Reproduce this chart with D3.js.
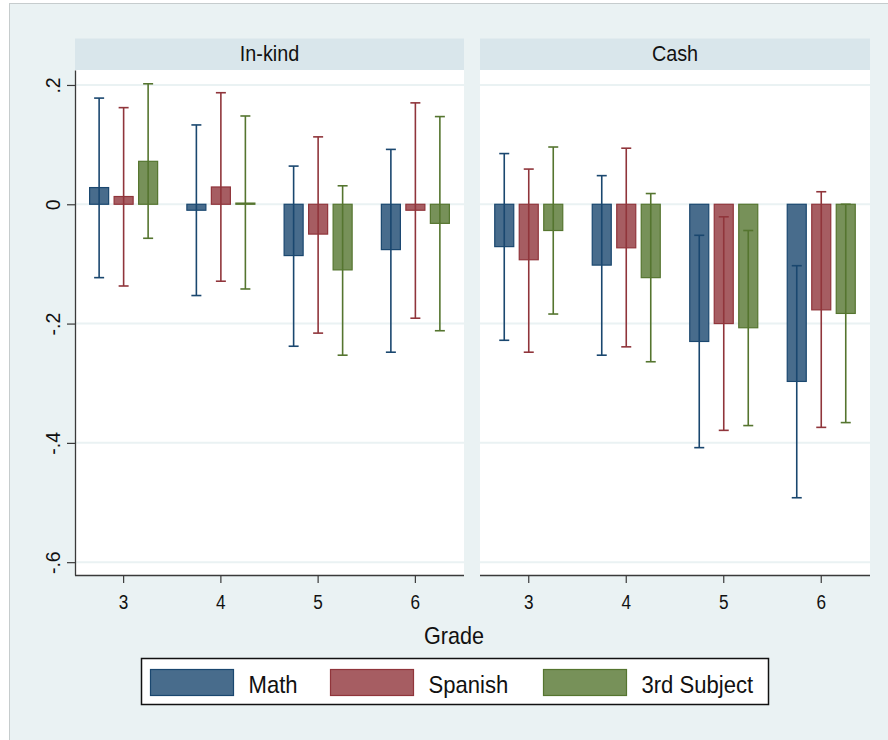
<!DOCTYPE html>
<html>
<head>
<meta charset="utf-8">
<script src="https://cdn.jsdelivr.net/npm/d3@7"></script>
<style>
  html, body { margin: 0; padding: 0; background: #ffffff; }
  svg { display: block; font-family: "Liberation Sans", Arial, sans-serif; }
</style>
</head>
<body>
<svg id="chart" width="888" height="740"></svg>
<script>
// Grades on the x axis, one panel per transfer type, one bar per subject
const grades = [3, 4, 5, 6];
const panels = ["In-kind", "Cash"];
const subjects = ["Math", "Spanish", "3rd Subject"];

// Point estimates and confidence bounds, rows = subjects, columns = grades
const inkindEst = [
  [0.028, -0.010, -0.086, -0.076],
  [0.013, 0.029, -0.050, -0.010],
  [0.072, 0.002, -0.110, -0.032]
];
const inkindLo = [
  [-0.123, -0.153, -0.238, -0.248],
  [-0.137, -0.129, -0.216, -0.191],
  [-0.057, -0.142, -0.253, -0.212]
];
const inkindHi = [
  [0.178, 0.133, 0.064, 0.092],
  [0.162, 0.187, 0.113, 0.170],
  [0.202, 0.148, 0.031, 0.147]
];
const cashEst = [
  [-0.071, -0.102, -0.230, -0.297],
  [-0.093, -0.073, -0.200, -0.177],
  [-0.044, -0.123, -0.207, -0.183]
];
const cashLo = [
  [-0.228, -0.253, -0.408, -0.492],
  [-0.248, -0.239, -0.379, -0.374],
  [-0.184, -0.264, -0.371, -0.366]
];
const cashHi = [
  [0.085, 0.048, -0.052, -0.103],
  [0.059, 0.094, -0.021, 0.021],
  [0.096, 0.018, -0.044, 0.000]
];

// y-axis ticks and their labels
const yTicks = [0.2, 0, -0.2, -0.4, -0.6];
const yTickLabels = [".2", "0", "-.2", "-.4", "-.6"];
const xTitle = "Grade";

// Colours
const lineColors = ["#1a476f", "#90353b", "#55752f"];
const fillColors = ["#486c8c", "#a65d62", "#779159"];
const bgColor = "#eaf2f3";
const stripColor = "#d9e6eb";
const gridColor = "#eaf2f3";

const panelData = [
  { name: panels[0], est: inkindEst, lo: inkindLo, hi: inkindHi },
  { name: panels[1], est: cashEst, lo: cashLo, hi: cashHi }
];

const svg = d3.select("#chart");

// Graph region background with thin frame
svg.append("rect")
  .attr("x", 9.5).attr("y", 3.5)
  .attr("width", 900).attr("height", 760)
  .attr("fill", bgColor)
  .attr("stroke", "#c6cccd").attr("stroke-width", 1);

const plotTop = 70, plotBottom = 575;
const stripTop = 38.5;
const panelRanges = [[75, 464], [480, 870]];

const y = d3.scaleLinear().domain([-0.6215, 0.2251]).range([plotBottom, plotTop]);

// Horizontally condensed text helper
function condensed(sel, sx) {
  return sel.each(function () {
    const t = d3.select(this);
    const x = +t.attr("x") || 0, yy = +t.attr("y") || 0;
    const rot = t.attr("data-rot");
    t.attr("x", 0).attr("y", 0)
      .attr("transform", `translate(${x},${yy}) scale(${sx},1)` + (rot ? ` rotate(${rot})` : ""));
  });
}

panelData.forEach((p, pi) => {
  const [x0, x1r] = panelRanges[pi];
  const g = svg.append("g");

  const x = d3.scaleBand().domain(grades).range([x0, x1r]).padding(0);
  const xs = d3.scaleBand().domain(d3.range(subjects.length))
    .range([-36.75, 36.75]).paddingInner(0.224).paddingOuter(0.112);

  // strip
  g.append("rect").attr("x", x0).attr("y", stripTop)
    .attr("width", x1r - x0).attr("height", plotTop - stripTop)
    .attr("fill", stripColor);
  g.append("text")
    .attr("x", (x0 + x1r) / 2).attr("y", 61)
    .attr("text-anchor", "middle")
    .attr("font-size", 22.5).attr("fill", "#111")
    .text(p.name)
    .call(condensed, 0.88);

  // plot area
  g.append("rect").attr("x", x0).attr("y", plotTop)
    .attr("width", x1r - x0).attr("height", plotBottom - plotTop)
    .attr("fill", "#ffffff");

  // gridlines
  g.selectAll("line.grid").data(yTicks).join("line")
    .attr("class", "grid")
    .attr("x1", x0).attr("x2", x1r)
    .attr("y1", d => y(d)).attr("y2", d => y(d))
    .attr("stroke", gridColor).attr("stroke-width", 2);

  // flatten values
  const rows = [];
  subjects.forEach((s, si) => {
    grades.forEach((gr, gi) => {
      rows.push({ si, gr, est: p.est[si][gi], lo: p.lo[si][gi], hi: p.hi[si][gi] });
    });
  });

  const cx = d => x(d.gr) + x.bandwidth() / 2 + xs(d.si) + xs.bandwidth() / 2;

  // bars
  g.selectAll("rect.bar").data(rows).join("rect")
    .attr("class", "bar")
    .attr("x", d => x(d.gr) + x.bandwidth() / 2 + xs(d.si))
    .attr("width", xs.bandwidth())
    .attr("y", d => Math.min(y(d.est), y(0)))
    .attr("height", d => Math.max(Math.abs(y(d.est) - y(0)), 0.8))
    .attr("fill", d => fillColors[d.si])
    .attr("stroke", d => lineColors[d.si])
    .attr("stroke-width", 1.2);

  // error bars
  const eb = g.selectAll("g.err").data(rows).join("g").attr("class", "err")
    .attr("stroke", d => lineColors[d.si]).attr("stroke-width", 1.6);
  eb.append("line")
    .attr("x1", cx).attr("x2", cx)
    .attr("y1", d => y(d.lo)).attr("y2", d => y(d.hi));
  eb.append("line")
    .attr("x1", d => cx(d) - 5).attr("x2", d => cx(d) + 5)
    .attr("y1", d => y(d.lo)).attr("y2", d => y(d.lo));
  eb.append("line")
    .attr("x1", d => cx(d) - 5).attr("x2", d => cx(d) + 5)
    .attr("y1", d => y(d.hi)).attr("y2", d => y(d.hi));

  // x axis
  const xAxis = g.append("g").attr("transform", `translate(0,${plotBottom})`)
    .call(d3.axisBottom(x).tickSize(8).tickSizeOuter(0).tickPadding(6));
  xAxis.select(".domain").attr("stroke", "#3a3a3a").attr("stroke-width", 1.3)
    .attr("d", `M${x0},0.5H${x1r}`);
  xAxis.selectAll(".tick line").attr("stroke", "#3a3a3a").attr("stroke-width", 1.2);
  xAxis.selectAll(".tick text")
    .attr("font-size", 19.5).attr("font-family", "Liberation Sans, Arial, sans-serif")
    .attr("fill", "#111").attr("dy", null).attr("y", 34)
    .call(condensed, 0.88);

  // y axis on the first panel only
  if (pi === 0) {
    const yAxis = g.append("g").attr("transform", `translate(${x0},0)`)
      .call(d3.axisLeft(y).tickValues(yTicks)
        .tickFormat((d, i) => yTickLabels[i]).tickSize(8).tickSizeOuter(0));
    yAxis.select(".domain").attr("stroke", "#3a3a3a").attr("stroke-width", 1.3);
    yAxis.selectAll(".tick line").attr("stroke", "#3a3a3a").attr("stroke-width", 1.2);
    yAxis.selectAll(".tick text")
      .attr("font-size", 19.5).attr("font-family", "Liberation Sans, Arial, sans-serif")
      .attr("fill", "#111")
      .attr("text-anchor", "middle").attr("dy", null)
      .attr("x", -15).attr("y", 0).attr("data-rot", -90)
      .call(condensed, 1);
  }
});

// x-axis title
svg.append("text")
  .attr("x", 454).attr("y", 643.5)
  .attr("text-anchor", "middle")
  .attr("font-size", 24).attr("fill", "#111")
  .text(xTitle)
  .call(condensed, 0.9);

// legend
const legend = svg.append("g");
legend.append("rect")
  .attr("x", 141.5).attr("y", 658.5).attr("width", 627).attr("height", 46)
  .attr("fill", "#ffffff").attr("stroke", "#111").attr("stroke-width", 1.5);
const swatchPos = [150.5, 330.5, 543.5];
subjects.forEach((s, i) => {
  legend.append("rect")
    .attr("x", swatchPos[i]).attr("y", 669.5).attr("width", 83).attr("height", 26)
    .attr("fill", fillColors[i]).attr("stroke", lineColors[i]).attr("stroke-width", 1.2);
  legend.append("text")
    .attr("x", swatchPos[i] + 98).attr("y", 693)
    .attr("font-size", 24).attr("fill", "#111")
    .text(s)
    .call(condensed, 0.92);
});
</script>
</body>
</html>
